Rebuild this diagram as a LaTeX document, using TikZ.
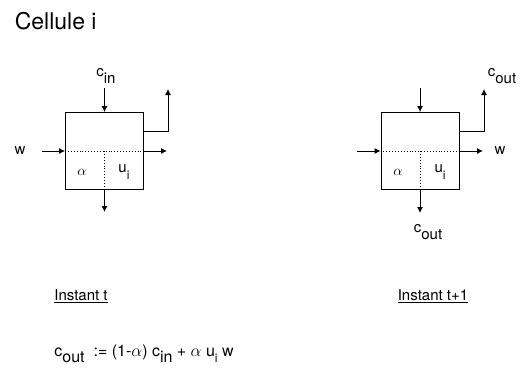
\documentclass[tikz,border=0pt]{standalone}
\usepackage{fontspec}
\setmainfont{TeX Gyre Heros}
\usetikzlibrary{arrows.meta, positioning, calc}
\newcommand{\lowsub}[1]{\raisebox{-0.8ex}{#1}}

\begin{document}
\begin{tikzpicture}[x=1pt, y=-1pt, line width=0.9pt, >={Latex[length=6pt,width=6pt]},
    cell/.style={draw, minimum width=78pt, minimum height=77pt, inner sep=0pt},
    lbl/.style={font=\fontsize{15}{17}\selectfont, inner sep=1pt}]
  \useasboundingbox (0,0) rectangle (525,367);

  \node[anchor=west, font=\fontsize{23}{26}\selectfont] (title) at (11,21) {Cellule i};

  % cellule a l'instant t
  \node[cell] (boxL) at (104.5,151) {};
  \node[lbl] (cinL) at (106,76) {c\lowsub{in}};
  \node[lbl] (wL) at (20,151) {w};
  \node[lbl] (alphaL) at (82,172) {$\alpha$};
  \node[lbl] (uL) at (124,172) {u\lowsub{\fontsize{12}{14}\selectfont i}};
  \coordinate (inL) at (104.5,88);
  \coordinate (upL) at (168,89);
  \coordinate (fromL) at (42,151);
  \coordinate (rightL) at (167,151);
  \coordinate (downL) at (104.5,212);

  \draw[->] (inL) -- (boxL.north);
  \draw[->] ($(boxL.north east)!0.25!(boxL.south east)$) -| (upL);
  \draw[->] (fromL) -- (boxL.west);
  \draw[dotted] (boxL.west) -- (boxL.east);
  \draw[->] (boxL.east) -- (rightL);
  \draw[dotted] (boxL.center) -- (boxL.south);
  \draw[->] (boxL.south) -- (downL);

  % cellule a l'instant t+1
  \node[cell] (boxR) at (420,151) {};
  \node[lbl] (coutR) at (502,76) {c\lowsub{out}};
  \node[lbl] (wR) at (500,151) {w};
  \node[lbl] (coutB) at (428,232) {c\lowsub{out}};
  \node[lbl] (alphaR) at (398,172) {$\alpha$};
  \node[lbl] (uR) at (440,172) {u\lowsub{\fontsize{12}{14}\selectfont i}};
  \coordinate (inR) at (420,88);
  \coordinate (upR) at (484,89);
  \coordinate (fromR) at (357,151);
  \coordinate (rightR) at (483,151);
  \coordinate (downR) at (420,213);

  \draw[->] (inR) -- (boxR.north);
  \draw[->] ($(boxR.north east)!0.25!(boxR.south east)$) -| (upR);
  \draw[->] (fromR) -- (boxR.west);
  \draw[dotted] (boxR.west) -- (boxR.east);
  \draw[->] (boxR.east) -- (rightR);
  \draw[dotted] (boxR.center) -- (boxR.south);
  \draw[->] (boxR.south) -- (downR);

  \node[lbl] (instT) at (81,296) {\underline{Instant t}};
  \node[lbl] (instT1) at (433,296) {\underline{Instant t+1}};

  \node[lbl, font=\fontsize{16}{18}\selectfont, anchor=base west] (formula) at (53,356)
    {c\lowsub{out}\ \ := (1-$\alpha$) c\lowsub{in} + $\alpha$ u\lowsub{\fontsize{12}{14}\selectfont i} w};
\end{tikzpicture}
\end{document}
